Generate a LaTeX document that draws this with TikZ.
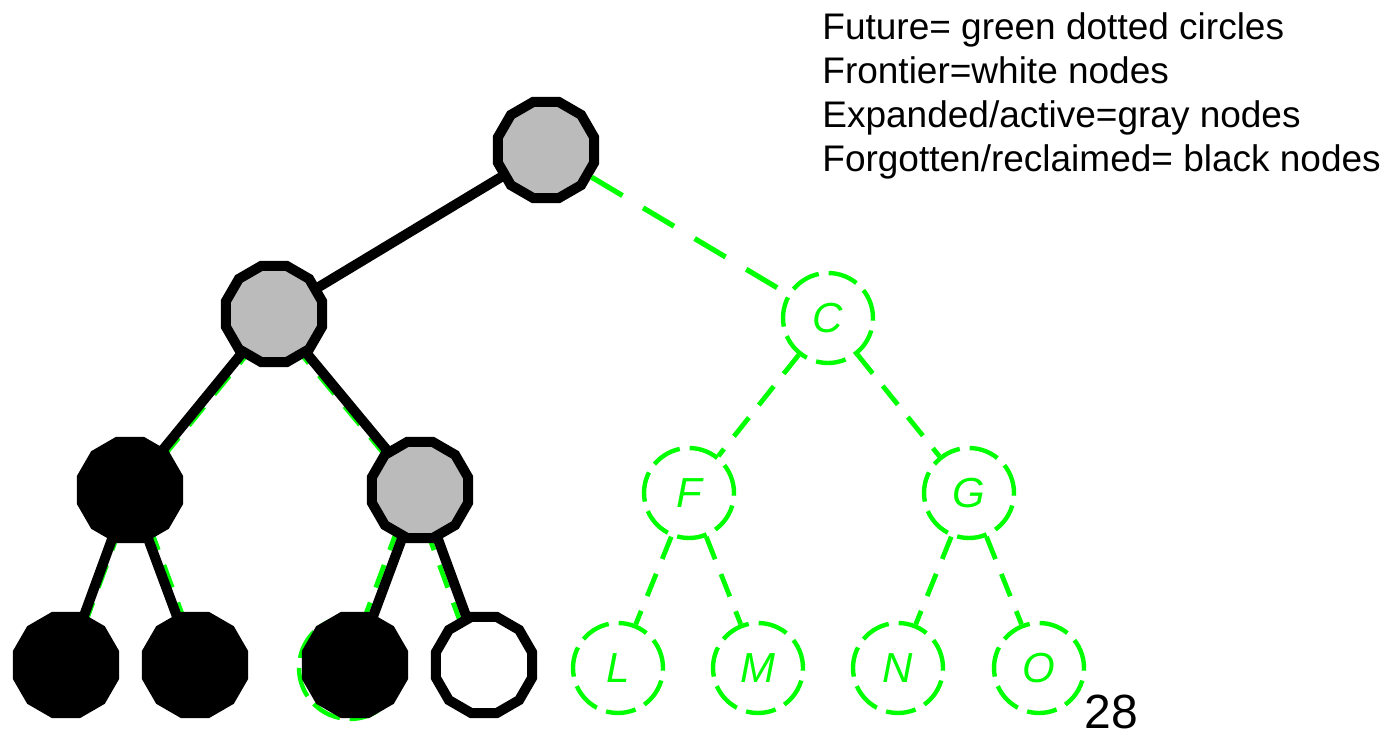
\documentclass[tikz,border=0pt]{standalone}
\usepackage{fontspec}
\setmainfont{Liberation Sans}
\usetikzlibrary{shapes.geometric,backgrounds}
\definecolor{fut}{RGB}{0,255,0}
\definecolor{act}{RGB}{187,187,187}
\begin{document}
\begin{tikzpicture}[x=0.5pt,y=-0.5pt,
 tnode/.style={regular polygon, regular polygon sides=12, minimum size=49.7pt, inner sep=0pt, draw=black, line width=5pt},
 graynode/.style={tnode, fill=act},
 blacknode/.style={tnode, fill=black},
 whitenode/.style={tnode, fill=white},
 future/.style={circle, draw=fut, line width=2.2pt, dash pattern=on 15pt off 5pt, minimum size=45pt, inner sep=0pt, text=fut, font=\fontsize{21}{21}\selectfont\itshape},
 tedge/.style={line width=5pt, draw=black},
 fedge/.style={draw=fut, line width=2.4pt, dash pattern=on 12pt off 8pt},
 legend/.style={anchor=base west, font=\fontsize{18.5}{22}\selectfont, inner sep=0pt}]
\useasboundingbox (0,0) rectangle (1398,737);

% explored part of the tree
\node[graynode] (A) at (546,150) {};
\node[graynode] (B) at (274,314) {};
\node[blacknode] (D) at (130,490) {};
\node[graynode] (E) at (420,490) {};
\node[blacknode] (H) at (66,665) {};
\node[blacknode] (I) at (195,665) {};
\node[blacknode] (J) at (355,665) {};
\node[whitenode] (K) at (484,665) {};

% future part of the tree
\node[future] (C) at (828,318) {C};
\node[future] (F) at (689,493) {F};
\node[future] (G) at (969,493) {G};
\node[future] (L) at (618,668) {L};
\node[future] (M) at (758,668) {M};
\node[future] (N) at (898,668) {N};
\node[future] (O) at (1039,668) {O};

\begin{pgfonlayer}{background}
  \node[future, minimum size=51pt] (Jg) at (350,668) {};
  \draw[fedge] ([xshift=3pt]B.center) -- ([xshift=3pt]D.center);
  \draw[fedge] ([xshift=-3pt]B.center) -- ([xshift=-3pt]E.center);
  \draw[fedge] ([xshift=2pt]D.center) -- ([xshift=2pt]H.center);
  \draw[fedge] ([xshift=3pt]D.center) -- ([xshift=3pt]I.center);
  \draw[fedge] ([xshift=-4pt]E.center) -- ([xshift=-4pt]J.center);
  \draw[fedge] ([xshift=-4pt]E.center) -- ([xshift=-4pt]K.center);
  \draw[tedge] (A.center) -- (B.center);
  \draw[tedge] (B.center) -- (D.center);
  \draw[tedge] (B.center) -- (E.center);
  \draw[tedge] (D.center) -- (H.center);
  \draw[tedge] (D.center) -- (I.center);
  \draw[tedge] (E.center) -- (J.center);
  \draw[tedge] (E.center) -- (K.center);
\end{pgfonlayer}

\draw[fedge, line width=2.6pt, dash pattern=on 18pt off 12pt] (A) -- (C);
\draw[fedge] (C) -- (F);
\draw[fedge] (C) -- (G);
\draw[fedge] (F) -- (L);
\draw[fedge] (F) -- (M);
\draw[fedge] (G) -- (N);
\draw[fedge] (G) -- (O);

% legend
\node[legend] (t1) at (822,40) {Future= green dotted circles};
\node[legend] (t2) at (822,84) {Frontier=white nodes};
\node[legend] (t3) at (822,128) {Expanded/active=gray nodes};
\node[legend] (t4) at (822,172) {Forgotten/reclaimed= black nodes};
\node[anchor=base west, inner sep=0pt, font=\fontsize{24}{24}\selectfont] (pg) at (1084,728) {28};
\end{tikzpicture}
\end{document}
